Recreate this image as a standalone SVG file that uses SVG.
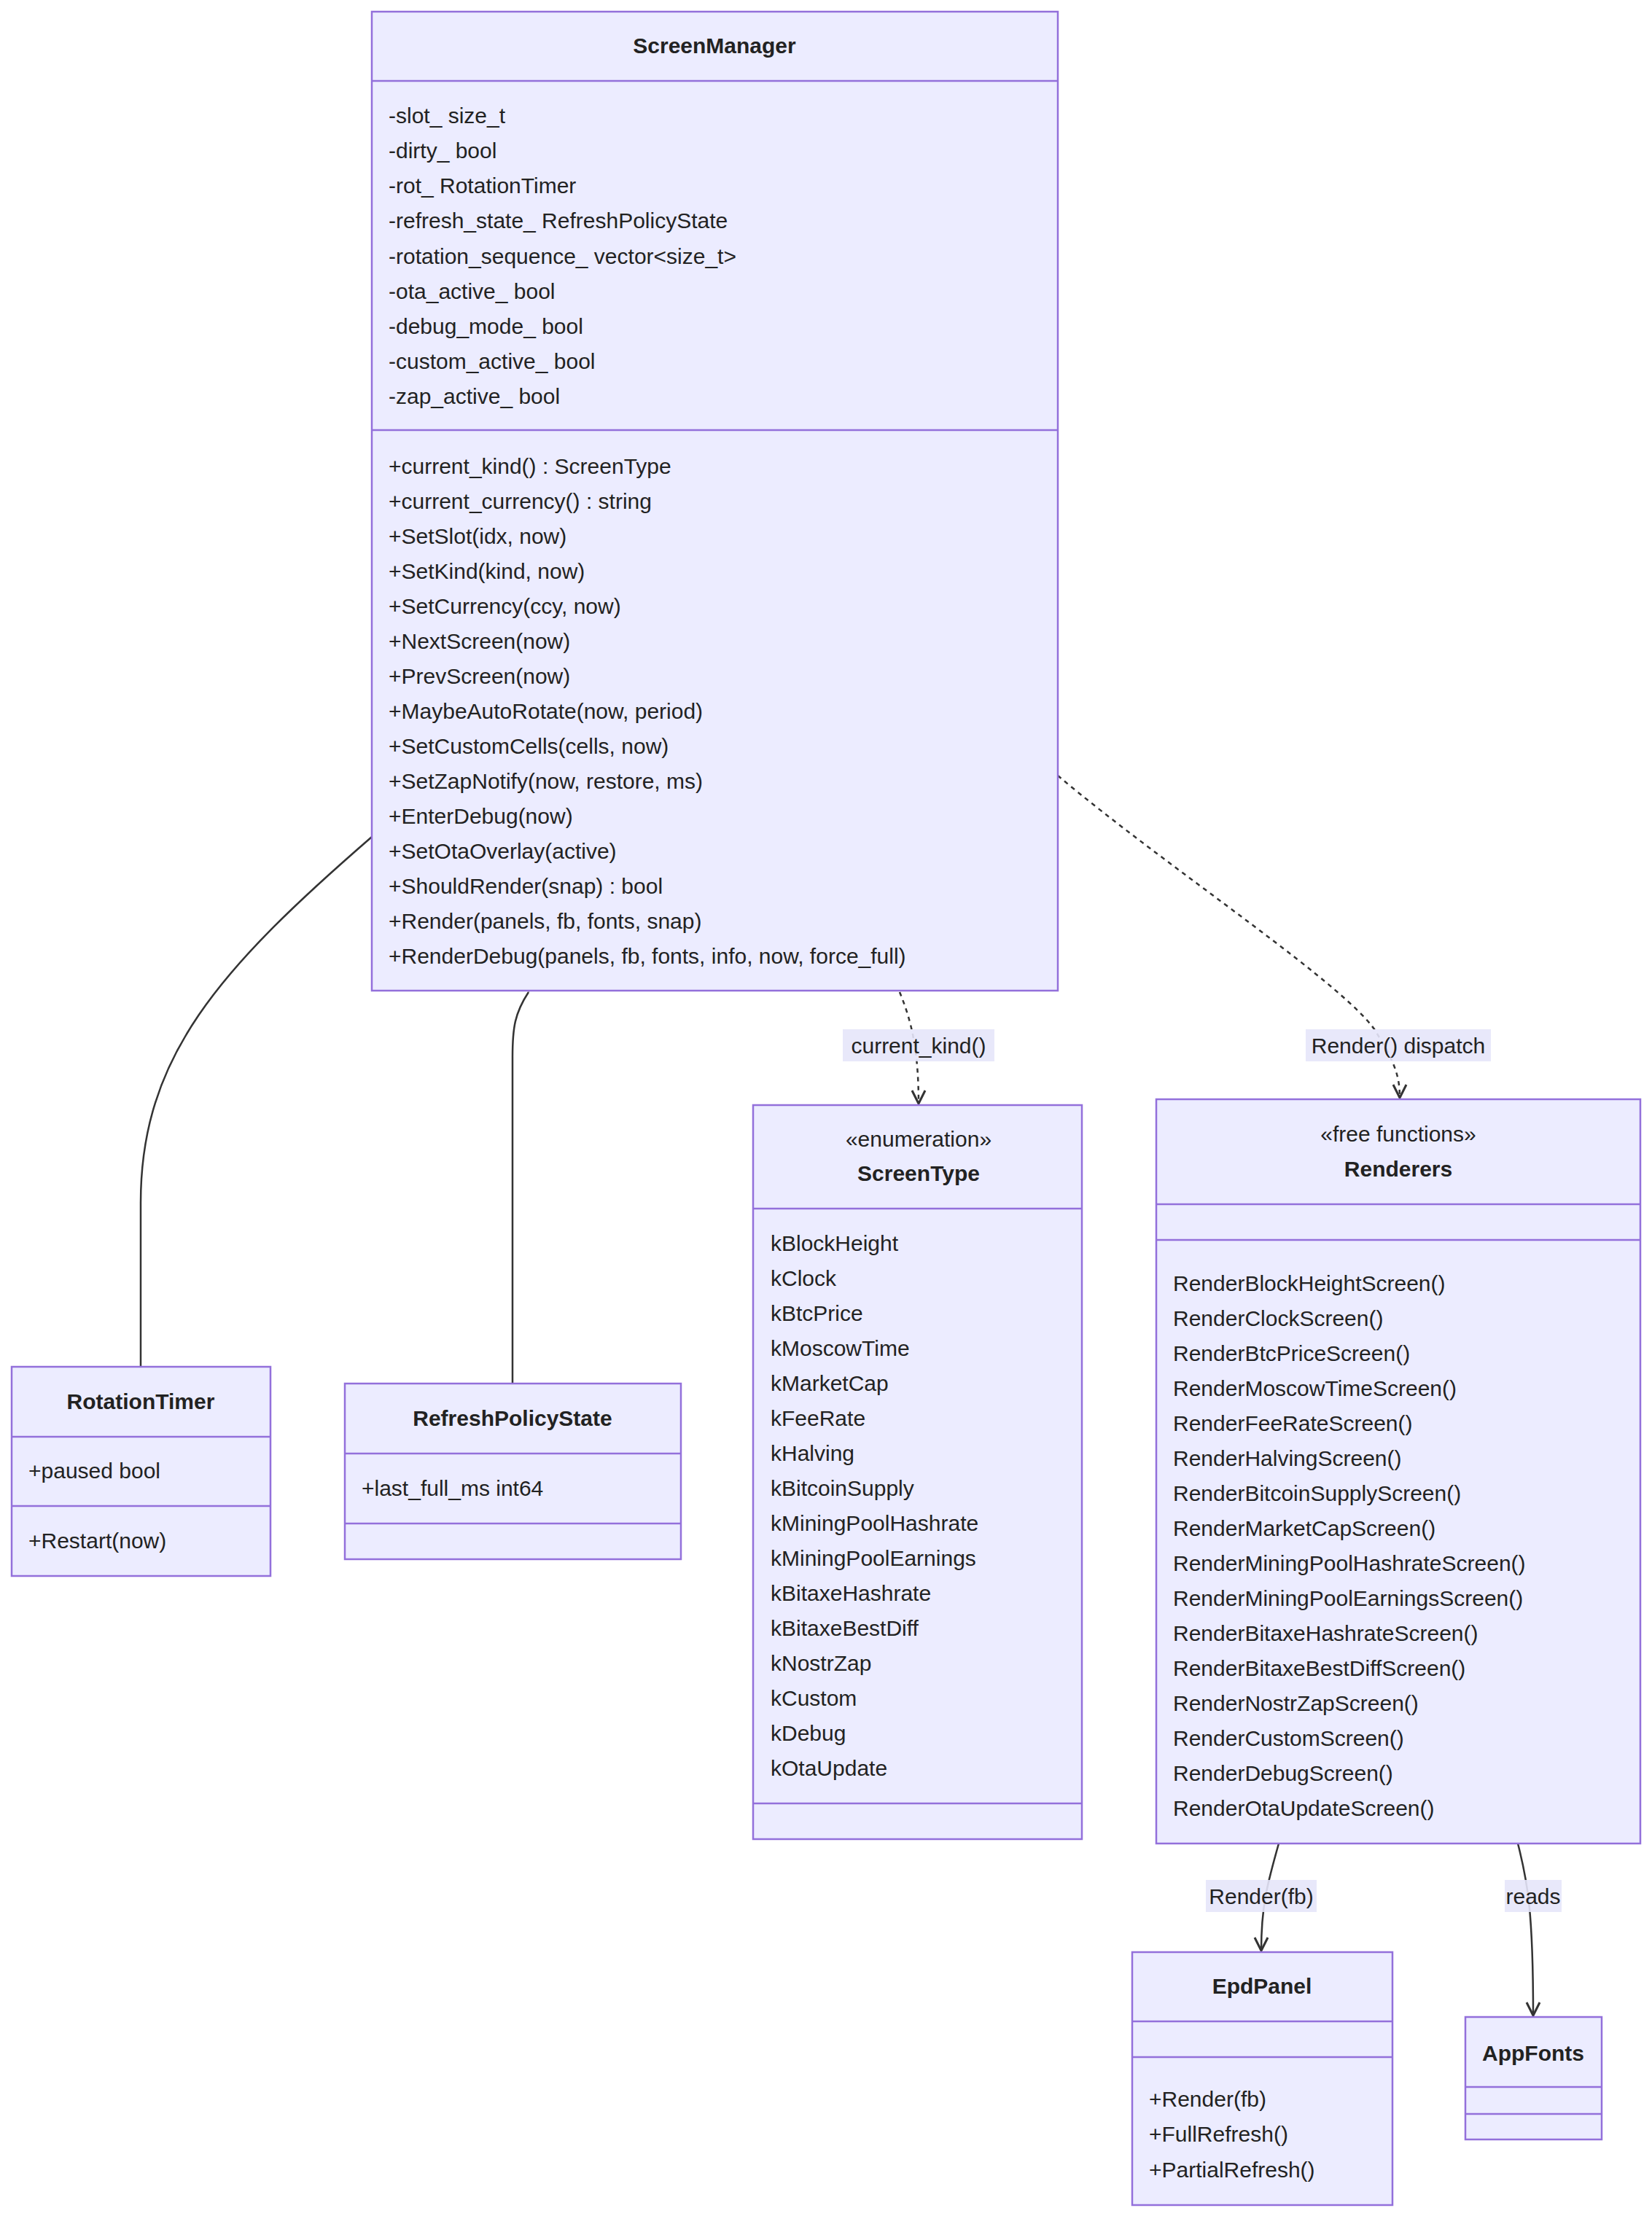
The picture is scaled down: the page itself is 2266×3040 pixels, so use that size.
<svg xmlns="http://www.w3.org/2000/svg" width="2266" height="3040" viewBox="0 0 2266 3040">
<style>
.box{fill:#ECECFF;stroke:#9370DB;stroke-width:2.5}
.div{stroke:#9370DB;stroke-width:2.5}
text{font-family:"Liberation Sans",Arial,sans-serif;font-size:30px;fill:#222}
.t{font-weight:bold;text-anchor:middle}
.c{text-anchor:middle}
.e{fill:none;stroke:#333;stroke-width:2.5}
.d{stroke-dasharray:6 6}
.lb{fill:#E6E6FA;opacity:0.9}
</style>
<defs>
<marker id="dia" viewBox="0 0 40 20" refX="2" refY="10" markerWidth="40" markerHeight="20" markerUnits="userSpaceOnUse" orient="auto-start-reverse">
<path d="M2,10 L18,3 L36,10 L18,17 Z" fill="#333"/>
</marker>
<marker id="arr" viewBox="0 0 24 24" refX="22" refY="12" markerWidth="24" markerHeight="24" markerUnits="userSpaceOnUse" orient="auto">
<path d="M4,3 L22,12 L4,21" fill="none" stroke="#333" stroke-width="3"/>
</marker>
</defs>
<g id="connectors">
<path class="e" d="M510,1148 C300,1330 193,1450 193,1650 L193,1875" marker-start="url(#dia)"/>
<path class="e" d="M725,1361 C706,1390 703,1410 703,1450 L703,1898" marker-start="url(#dia)"/>
<path class="e d" d="M1234,1361 C1250,1400 1260,1440 1260,1514" marker-end="url(#arr)"/>
<path class="e d" d="M1451,1064 C1600,1190 1860,1360 1890,1420 C1915,1460 1920,1480 1920,1506" marker-end="url(#arr)"/>
<path class="e" d="M1754,2529 C1740,2580 1730,2610 1730,2676" marker-end="url(#arr)"/>
<path class="e" d="M2082,2529 C2095,2580 2103,2620 2103,2765" marker-end="url(#arr)"/>
<rect class="lb" x="1156" y="1412" width="208" height="44"/>
<text class="c" x="1260" y="1445">current_kind()</text>
<rect class="lb" x="1791" y="1412" width="254" height="44"/>
<text class="c" x="1918" y="1445">Render() dispatch</text>
<rect class="lb" x="1654" y="2579" width="152" height="44"/>
<text class="c" x="1730" y="2612">Render(fb)</text>
<rect class="lb" x="2064" y="2579" width="78" height="44"/>
<text class="c" x="2103" y="2612">reads</text>
</g>
<g id="ScreenManager">
<rect class="box" x="510" y="16" width="941" height="1343"/>
<line class="div" x1="510" y1="111" x2="1451" y2="111"/>
<line class="div" x1="510" y1="590" x2="1451" y2="590"/>
<text class="t" x="980" y="73">ScreenManager</text>
<text x="533" y="169">-slot_ size_t</text>
<text x="533" y="217">-dirty_ bool</text>
<text x="533" y="265">-rot_ RotationTimer</text>
<text x="533" y="313">-refresh_state_ RefreshPolicyState</text>
<text x="533" y="362">-rotation_sequence_ vector&lt;size_t&gt;</text>
<text x="533" y="410">-ota_active_ bool</text>
<text x="533" y="458">-debug_mode_ bool</text>
<text x="533" y="506">-custom_active_ bool</text>
<text x="533" y="554">-zap_active_ bool</text>
<text x="533" y="650">+current_kind() : ScreenType</text>
<text x="533" y="698">+current_currency() : string</text>
<text x="533" y="746">+SetSlot(idx, now)</text>
<text x="533" y="794">+SetKind(kind, now)</text>
<text x="533" y="842">+SetCurrency(ccy, now)</text>
<text x="533" y="890">+NextScreen(now)</text>
<text x="533" y="938">+PrevScreen(now)</text>
<text x="533" y="986">+MaybeAutoRotate(now, period)</text>
<text x="533" y="1034">+SetCustomCells(cells, now)</text>
<text x="533" y="1082">+SetZapNotify(now, restore, ms)</text>
<text x="533" y="1130">+EnterDebug(now)</text>
<text x="533" y="1178">+SetOtaOverlay(active)</text>
<text x="533" y="1226">+ShouldRender(snap) : bool</text>
<text x="533" y="1274">+Render(panels, fb, fonts, snap)</text>
<text x="533" y="1322">+RenderDebug(panels, fb, fonts, info, now, force_full)</text>
</g>
<g id="RotationTimer">
<rect class="box" x="16" y="1875" width="355" height="287"/>
<line class="div" x1="16" y1="1971" x2="371" y2="1971"/>
<line class="div" x1="16" y1="2066" x2="371" y2="2066"/>
<text class="t" x="193" y="1933">RotationTimer</text>
<text x="39" y="2028">+paused bool</text>
<text x="39" y="2124">+Restart(now)</text>
</g>
<g id="RefreshPolicyState">
<rect class="box" x="473" y="1898" width="461" height="241"/>
<line class="div" x1="473" y1="1994" x2="934" y2="1994"/>
<line class="div" x1="473" y1="2090" x2="934" y2="2090"/>
<text class="t" x="703" y="1956">RefreshPolicyState</text>
<text x="496" y="2052">+last_full_ms int64</text>
</g>
<g id="ScreenType">
<rect class="box" x="1033" y="1516" width="451" height="1007"/>
<line class="div" x1="1033" y1="1658" x2="1484" y2="1658"/>
<line class="div" x1="1033" y1="2474" x2="1484" y2="2474"/>
<text class="c" x="1260" y="1573">«enumeration»</text>
<text class="t" x="1260" y="1620">ScreenType</text>
<text x="1057" y="1716">kBlockHeight</text>
<text x="1057" y="1764">kClock</text>
<text x="1057" y="1812">kBtcPrice</text>
<text x="1057" y="1860">kMoscowTime</text>
<text x="1057" y="1908">kMarketCap</text>
<text x="1057" y="1956">kFeeRate</text>
<text x="1057" y="2004">kHalving</text>
<text x="1057" y="2052">kBitcoinSupply</text>
<text x="1057" y="2100">kMiningPoolHashrate</text>
<text x="1057" y="2148">kMiningPoolEarnings</text>
<text x="1057" y="2196">kBitaxeHashrate</text>
<text x="1057" y="2244">kBitaxeBestDiff</text>
<text x="1057" y="2292">kNostrZap</text>
<text x="1057" y="2340">kCustom</text>
<text x="1057" y="2388">kDebug</text>
<text x="1057" y="2436">kOtaUpdate</text>
</g>
<g id="Renderers">
<rect class="box" x="1586" y="1508" width="664" height="1021"/>
<line class="div" x1="1586" y1="1652" x2="2250" y2="1652"/>
<line class="div" x1="1586" y1="1701" x2="2250" y2="1701"/>
<text class="c" x="1918" y="1566">«free functions»</text>
<text class="t" x="1918" y="1614">Renderers</text>
<text x="1609" y="1771">RenderBlockHeightScreen()</text>
<text x="1609" y="1819">RenderClockScreen()</text>
<text x="1609" y="1867">RenderBtcPriceScreen()</text>
<text x="1609" y="1915">RenderMoscowTimeScreen()</text>
<text x="1609" y="1963">RenderFeeRateScreen()</text>
<text x="1609" y="2011">RenderHalvingScreen()</text>
<text x="1609" y="2059">RenderBitcoinSupplyScreen()</text>
<text x="1609" y="2107">RenderMarketCapScreen()</text>
<text x="1609" y="2155">RenderMiningPoolHashrateScreen()</text>
<text x="1609" y="2203">RenderMiningPoolEarningsScreen()</text>
<text x="1609" y="2251">RenderBitaxeHashrateScreen()</text>
<text x="1609" y="2299">RenderBitaxeBestDiffScreen()</text>
<text x="1609" y="2347">RenderNostrZapScreen()</text>
<text x="1609" y="2395">RenderCustomScreen()</text>
<text x="1609" y="2443">RenderDebugScreen()</text>
<text x="1609" y="2491">RenderOtaUpdateScreen()</text>
</g>
<g id="EpdPanel">
<rect class="box" x="1553" y="2678" width="357" height="347"/>
<line class="div" x1="1553" y1="2773" x2="1910" y2="2773"/>
<line class="div" x1="1553" y1="2822" x2="1910" y2="2822"/>
<text class="t" x="1731" y="2735">EpdPanel</text>
<text x="1576" y="2890">+Render(fb)</text>
<text x="1576" y="2938">+FullRefresh()</text>
<text x="1576" y="2987">+PartialRefresh()</text>
</g>
<g id="AppFonts">
<rect class="box" x="2010" y="2767" width="187" height="168"/>
<line class="div" x1="2010" y1="2863" x2="2197" y2="2863"/>
<line class="div" x1="2010" y1="2900" x2="2197" y2="2900"/>
<text class="t" x="2103" y="2827">AppFonts</text>
</g>
</svg>
